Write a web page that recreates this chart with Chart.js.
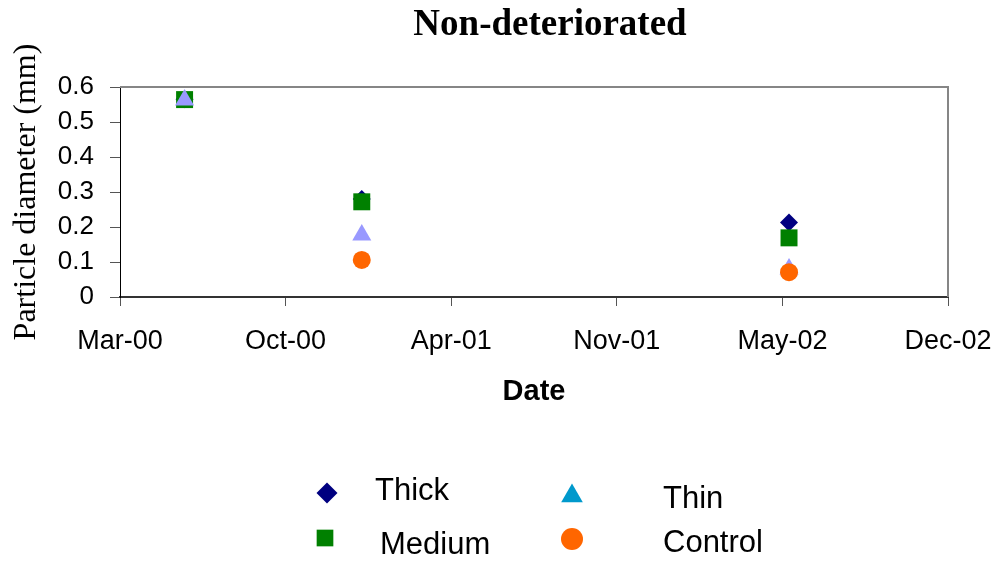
<!DOCTYPE html>
<html>
<head>
<meta charset="utf-8">
<script src="https://cdn.jsdelivr.net/npm/chart.js@4/dist/chart.umd.min.js"></script>
<style>
  html, body { margin: 0; padding: 0; background: #fff; }
  #wrap { width: 1002px; height: 562px; }
</style>
</head>
<body>
<div id="wrap"><canvas id="chart" width="1002" height="562"></canvas></div>
<script>
// Sampling dates and measured mean particle diameters (mm)
const sampleDates = ['2000-06-01', '2001-01-01', '2002-06-01'];
const thick   = [0.565, 0.280, 0.213];
const medium  = [0.564, 0.272, 0.169];
const thin    = [0.563, 0.177, 0.080];
const control = [null,  0.106, 0.071];

// Date axis: starts mid-March 2000, one major unit every 200 days
const axisStart = '2000-03-15';
const axisSpanDays = 1000;
const tickStepDays = 200;
const xTickLabels = ['Mar-00', 'Oct-00', 'Apr-01', 'Nov-01', 'May-02', 'Dec-02'];
const yTickLabels = ['0', '0.1', '0.2', '0.3', '0.4', '0.5', '0.6'];

const seriesNames = ['Thick', 'Medium', 'Thin', 'Control'];

const DAY = 86400000;
const dayNum = s => Date.UTC(+s.slice(0, 4), +s.slice(5, 7) - 1, +s.slice(8, 10)) / DAY;
const daysFromStart = s => dayNum(s) - dayNum(axisStart);
const toPoints = vals => sampleDates.map((d, i) => ({ x: daysFromStart(d), y: vals[i] }))
                                    .filter(p => p.y !== null);

const SANS = "'Liberation Sans', Arial, sans-serif";
const SERIF = "'Liberation Serif', 'Times New Roman', serif";

const styles = {
  Thick:   { color: '#000080', legendColor: '#000080', pointStyle: 'rectRot',  radius: 9,  order: 4 },
  Medium:  { color: '#008000', legendColor: '#008000', pointStyle: 'rect',     radius: 12, order: 3 },
  Thin:    { color: '#9999FF', legendColor: '#0099CC', pointStyle: 'triangle', radius: 11, order: 2 },
  Control: { color: '#FF6600', legendColor: '#FF6600', pointStyle: 'circle',   radius: 9,  order: 1 }
};
const seriesValues = { Thick: thick, Medium: medium, Thin: thin, Control: control };

const datasets = seriesNames.map(name => ({
  label: name,
  data: toPoints(seriesValues[name]),
  showLine: false,
  pointStyle: styles[name].pointStyle,
  pointRadius: styles[name].radius,
  pointHoverRadius: styles[name].radius,
  backgroundColor: styles[name].color,
  borderColor: styles[name].color,
  borderWidth: 0,
  order: styles[name].order
}));

// Legend layout: two columns, marker then label
const legendItems = [
  { name: 'Thick',   mx: 327, my: 493, tx: 375, ty: 500, r: 10.5 },
  { name: 'Thin',    mx: 572, my: 496, tx: 663, ty: 508, r: 12.5 },
  { name: 'Medium',  mx: 325, my: 538, tx: 380, ty: 554, r: 11.8 },
  { name: 'Control', mx: 572, my: 539, tx: 663, ty: 552, r: 11 }
];

function drawMarker(ctx, style, x, y, r, color) {
  ctx.save();
  ctx.fillStyle = color;
  ctx.beginPath();
  if (style === 'rectRot') {
    ctx.moveTo(x - r, y); ctx.lineTo(x, y - r); ctx.lineTo(x + r, y); ctx.lineTo(x, y + r);
    ctx.closePath();
  } else if (style === 'rect') {
    const s = Math.SQRT1_2 * r;
    ctx.rect(x - s, y - s, 2 * s, 2 * s);
  } else if (style === 'triangle') {
    for (let k = 0; k < 3; k++) {
      const a = k * 2 * Math.PI / 3;
      const px = x + Math.sin(a) * r, py = y - Math.cos(a) * r;
      k === 0 ? ctx.moveTo(px, py) : ctx.lineTo(px, py);
    }
    ctx.closePath();
  } else {
    ctx.arc(x, y, r, 0, 2 * Math.PI);
  }
  ctx.fill();
  ctx.restore();
}

const decorations = {
  id: 'decorations',
  beforeDatasetsDraw(chart) {
    // grey frame along the top and right of the plot area
    const { ctx, chartArea: a } = chart;
    ctx.save();
    ctx.strokeStyle = '#868686';
    ctx.lineWidth = 2;
    ctx.beginPath();
    ctx.moveTo(a.left, a.top);
    ctx.lineTo(a.right, a.top);
    ctx.lineTo(a.right, a.bottom);
    ctx.stroke();
    ctx.restore();
  },
  afterDraw(chart) {
    const ctx = chart.ctx;
    ctx.save();
    // title
    ctx.fillStyle = '#000';
    ctx.font = 'bold 37px ' + SERIF;
    ctx.textAlign = 'center';
    ctx.textBaseline = 'alphabetic';
    ctx.fillText('Non-deteriorated', 550, 35);
    // legend
    ctx.font = '31px ' + SANS;
    ctx.textAlign = 'left';
    legendItems.forEach(it => {
      const st = styles[it.name];
      drawMarker(ctx, st.pointStyle, it.mx, it.my, it.r, st.legendColor);
      ctx.fillStyle = '#000';
      ctx.fillText(it.name, it.tx, it.ty);
    });
    ctx.restore();
  }
};

new Chart(document.getElementById('chart'), {
  type: 'scatter',
  data: { datasets },
  plugins: [decorations],
  options: {
    responsive: false,
    animation: false,
    devicePixelRatio: 1,
    layout: { padding: { left: 0, right: 54, top: 87, bottom: 145 } },
    plugins: {
      legend: { display: false },
      title: { display: false },
      tooltip: { enabled: false }
    },
    scales: {
      x: {
        type: 'linear',
        min: 0,
        max: axisSpanDays,
        afterFit: s => { s.height = 120; s.paddingLeft = 0; s.paddingRight = 0; },
        ticks: {
          stepSize: tickStepDays,
          autoSkip: false,
          maxRotation: 0,
          padding: 19,
          color: '#000',
          font: { family: SANS, size: 27 },
          callback: v => xTickLabels[Math.round(v / tickStepDays)]
        },
        grid: { drawOnChartArea: false, drawTicks: true, tickLength: 9, tickColor: '#555' },
        border: { display: true, color: '#333', width: 2 },
        title: {
          display: true,
          text: 'Date',
          color: '#000',
          font: { family: SANS, size: 29, weight: 'bold' },
          padding: { top: 0, bottom: 8 }
        }
      },
      y: {
        min: 0,
        max: 0.6,
        afterFit: s => { s.width = 120; s.paddingTop = 0; s.paddingBottom = 0; },
        ticks: {
          stepSize: 0.1,
          padding: 16,
          color: '#000',
          font: { family: SANS, size: 26 },
          callback: v => yTickLabels[Math.round(v * 10)]
        },
        grid: { drawOnChartArea: false, drawTicks: true, tickLength: 10, tickColor: '#555' },
        border: { display: true, color: '#000', width: 1 },
        title: {
          display: true,
          text: 'Particle diameter (mm)',
          color: '#000',
          font: { family: SERIF, size: 32 },
          padding: { top: 7, bottom: 0 }
        }
      }
    }
  }
});
</script>
</body>
</html>
